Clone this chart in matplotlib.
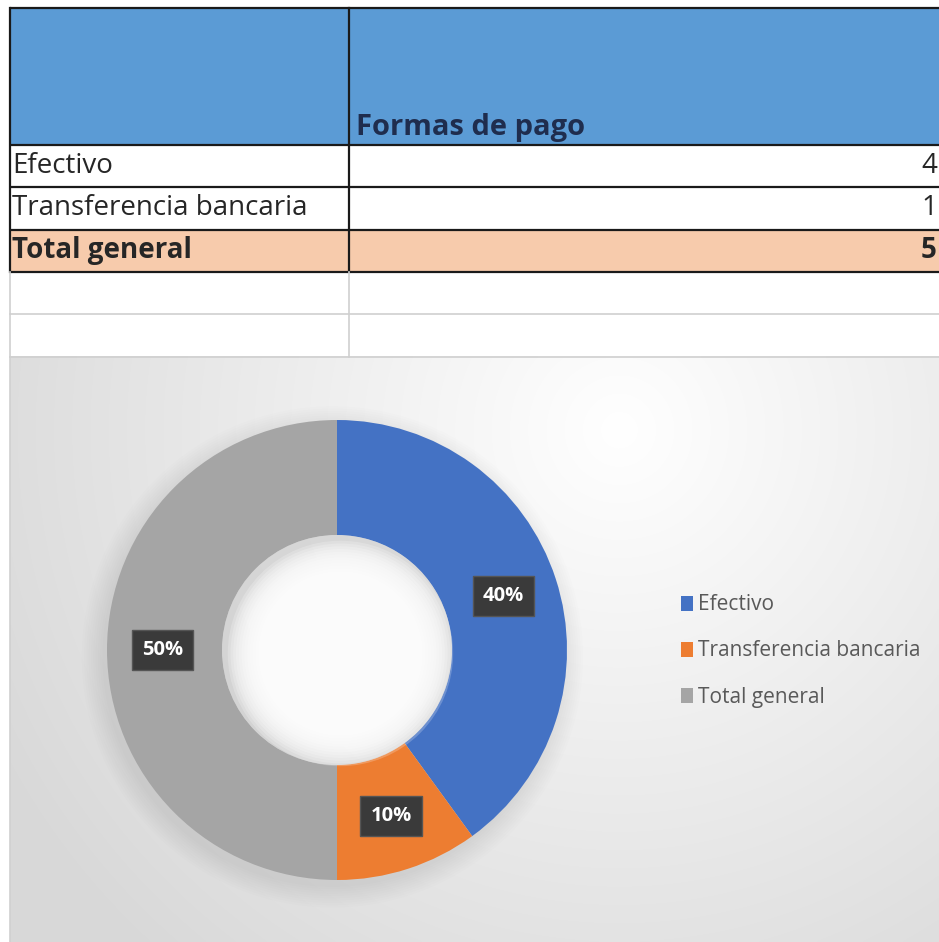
import numpy as np
import matplotlib
matplotlib.use("Agg")
import matplotlib.pyplot as plt
from matplotlib.patches import Rectangle, Circle

# data
header_title = "Formas de pago"
row_labels = ["Efectivo", "Transferencia bancaria", "Total general"]
row_values = [4, 1, 5]
slice_labels = ["Efectivo", "Transferencia bancaria", "Total general"]
slice_values = [4, 1, 5]
slice_colors = ["#4472C4", "#ED7D31", "#A5A5A5"]

W, H = 939, 942
plt.rcParams['font.family'] = ['Open Sans', 'DejaVu Sans']

fig = plt.figure(figsize=(W / 100, H / 100), dpi=100)
fig.patch.set_facecolor("white")

# background axes in pixel coordinates (table + chart area)
bg = fig.add_axes([0, 0, 1, 1])
bg.set_xlim(0, W)
bg.set_ylim(H, 0)
bg.axis("off")

# table layout
x0, xdiv, x1 = 10, 349, W + 5
top, head_h, row_h = 8, 137, 42.3
n_blank = 2

bg.add_patch(Rectangle((x0, top), x1 - x0, head_h, facecolor="#5B9BD5", edgecolor="none"))
bg.text(xdiv + 7, top + head_h - 3, header_title, fontsize=21, fontweight="bold",
        color="#1F2D4E", ha="left", va="bottom")

y = top + head_h
for i, (lab, val) in enumerate(zip(row_labels, row_values)):
    is_total = i == len(row_labels) - 1
    if is_total:
        bg.add_patch(Rectangle((x0, y), x1 - x0, row_h, facecolor="#F7CBAC", edgecolor="none"))
    bg.text(x0 + 2, y + row_h / 2, lab, fontsize=20, color="#262626",
            fontweight="bold" if is_total else "normal", ha="left", va="center")
    bg.text(W - 2, y + row_h / 2, str(val), fontsize=20, color="#262626",
            fontweight="bold" if is_total else "normal", ha="right", va="center")
    y += row_h
data_bottom = y

# dark grid lines of the table
for yy in [top, top + head_h] + [top + head_h + row_h * (k + 1) for k in range(len(row_labels))]:
    bg.plot([x0, x1], [yy, yy], color="#1a1a1a", lw=1.6, solid_capstyle="butt")
bg.plot([x0, x0], [top, data_bottom], color="#1a1a1a", lw=1.6)
bg.plot([xdiv, xdiv], [top, data_bottom], color="#1a1a1a", lw=1.6)

# empty rows below
for k in range(n_blank):
    yy = data_bottom + row_h * (k + 1)
    bg.plot([x0, x1], [yy, yy], color="#cfcfcf", lw=1.2)
blank_bottom = data_bottom + row_h * n_blank
bg.plot([x0, x0], [data_bottom, blank_bottom], color="#cfcfcf", lw=1.2)
bg.plot([xdiv, xdiv], [data_bottom, blank_bottom], color="#cfcfcf", lw=1.2)

# chart area with radial gradient
cy0 = blank_bottom
gx, gy = np.meshgrid(np.linspace(x0, W, 300), np.linspace(cy0, H, 300))
d = np.sqrt((gx - 620) ** 2 + (gy - 430) ** 2)
t = np.clip(d / 700, 0, 1)
shade = 1.0 - 0.15 * t
img = np.dstack([shade, shade, shade])
bg.imshow(img, extent=(x0, W, H, cy0), aspect="auto", interpolation="bilinear", zorder=0)
bg.plot([x0, x0], [cy0, H], color="#d0d0d0", lw=1.2)

# donut
cx, cyc, R = 337, 650, 230
ax = fig.add_axes([(cx - R) / W, 1 - (cyc + R) / H, 2 * R / W, 2 * R / H])
ax.set_facecolor("none")
ax.axis("off")

# soft shadow around the ring
for k in range(10):
    ax.add_patch(Circle((-0.02, -0.03), 1.0 + 0.01 * k, facecolor="black",
                        alpha=0.008, edgecolor="none", zorder=0, clip_on=False))
# soft shading inside the hole
ax.add_patch(Circle((0, 0), 0.5, facecolor="#d6d6d6", alpha=0.5, edgecolor="none", zorder=2.5))
for k in range(12):
    ax.add_patch(Circle((0.015, -0.015), 0.49 - 0.012 * k, facecolor="#ffffff",
                        alpha=0.22, edgecolor="none", zorder=3))

wedges, _, autotexts = ax.pie(
    slice_values, colors=slice_colors, startangle=90, counterclock=False,
    radius=1.0, wedgeprops=dict(width=0.5, edgecolor="none"),
    autopct="%1.0f%%", pctdistance=0.76,
    textprops=dict(color="white", fontsize=14.5, fontweight="bold"))
for w in wedges:
    w.set_zorder(2)
for at in autotexts:
    at.set_zorder(5)
    at.set_bbox(dict(facecolor="#3a3a3a", edgecolor="#555555", boxstyle="square,pad=0.5"))
ax.set_xlim(-1, 1)
ax.set_ylim(-1, 1)

fig.legend(wedges, slice_labels, loc="center left",
           bbox_to_anchor=(662 / W, 1 - 651 / H), frameon=False,
           fontsize=15, labelcolor="#595959", handlelength=0.6, handleheight=0.7,
           handletextpad=0.25, labelspacing=1.2)

fig.savefig("out.png", dpi=100)
